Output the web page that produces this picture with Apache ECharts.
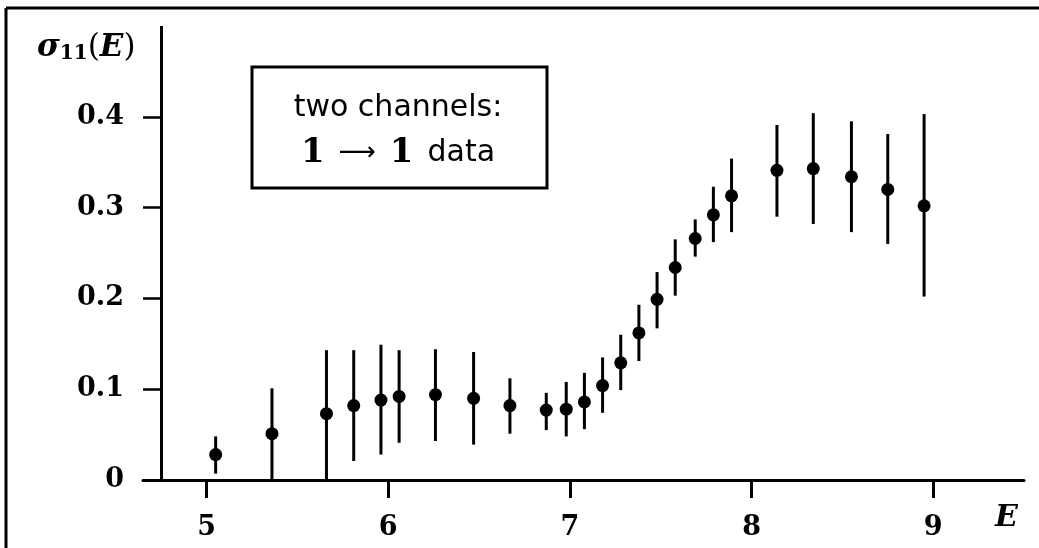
<!DOCTYPE html>
<html>
<head>
<meta charset="utf-8">
<script src="https://cdn.jsdelivr.net/npm/echarts@6/dist/echarts.min.js"></script>
<style>
  html, body { margin: 0; padding: 0; background: #fff; }
  #main { width: 1039px; height: 548px; }
</style>
</head>
<body>
<div id="main"></div>
<script>
// energies E and cross section sigma_11(E), error bar ends
var energy = [5.05, 5.36, 5.66, 5.81, 5.96, 6.06, 6.26, 6.47, 6.67, 6.87, 6.98, 7.08, 7.18,
              7.28, 7.38, 7.48, 7.58, 7.69, 7.79, 7.89, 8.14, 8.34, 8.55, 8.75, 8.95];
var sigma  = [0.028, 0.051, 0.073, 0.082, 0.088, 0.092, 0.094, 0.090, 0.082, 0.077, 0.078, 0.086, 0.104,
              0.129, 0.162, 0.199, 0.234, 0.266, 0.292, 0.313, 0.341, 0.343, 0.334, 0.320, 0.302];
var errLow = [0.007, 0.0, 0.0, 0.021, 0.028, 0.041, 0.043, 0.039, 0.051, 0.055, 0.048, 0.056, 0.074,
              0.099, 0.131, 0.167, 0.203, 0.246, 0.262, 0.273, 0.290, 0.282, 0.273, 0.260, 0.202];
var errHigh = [0.048, 0.101, 0.143, 0.143, 0.149, 0.143, 0.144, 0.141, 0.112, 0.096, 0.108, 0.118, 0.135,
               0.160, 0.193, 0.229, 0.265, 0.287, 0.323, 0.354, 0.391, 0.404, 0.395, 0.381, 0.403];
var xTicks = [5, 6, 7, 8, 9];
var yTicks = [0, 0.1, 0.2, 0.3, 0.4];

var points = [], bars = [];
for (var i = 0; i < energy.length; i++) {
    points.push([energy[i], sigma[i]]);
    bars.push([energy[i], errLow[i], errHigh[i]]);
}

var serifBold = 'DejaVu Serif';
var myChart = echarts.init(document.getElementById('main'));

var option = {
    backgroundColor: '#fff',
    animation: false,
    grid: { left: 143, right: 15, top: 26, bottom: 68 },
    xAxis: {
        type: 'value',
        min: 4.65,
        max: 9.5,
        splitLine: { show: false },
        axisLine: { lineStyle: { color: '#000', width: 3 } },
        axisTick: { customValues: xTicks, length: 18, lineStyle: { color: '#000', width: 3 } },
        axisLabel: {
            customValues: xTicks,
            margin: 34,
            color: '#000',
            fontFamily: serifBold,
            fontWeight: 'bold',
            fontSize: 27
        }
    },
    yAxis: {
        type: 'value',
        min: 0,
        max: 0.5,
        splitLine: { show: false },
        axisLine: { show: false },
        axisTick: { customValues: yTicks, inside: true, length: 18, lineStyle: { color: '#000', width: 2.5 } },
        axisLabel: {
            customValues: yTicks,
            margin: 19,
            color: '#000',
            fontFamily: serifBold,
            fontWeight: 'bold',
            fontSize: 27,
            formatter: function (v) { return v === 0 ? '0' : v.toFixed(1); }
        }
    },
    series: [{
        type: 'custom',
        silent: true,
        data: bars,
        renderItem: function (params, api) {
            var top = api.coord([api.value(0), api.value(2)]);
            var bot = api.coord([api.value(0), api.value(1)]);
            return {
                type: 'line',
                shape: { x1: top[0], y1: top[1], x2: bot[0], y2: bot[1] },
                style: { stroke: '#000', lineWidth: 3 }
            };
        }
    }, {
        type: 'scatter',
        silent: true,
        data: points,
        symbol: 'circle',
        symbolSize: 13,
        itemStyle: { color: '#000', opacity: 1 },
        markLine: {
            silent: true,
            symbol: ['none', 'none'],
            label: { show: false },
            lineStyle: { color: '#000', width: 3, type: 'solid' },
            data: [[{ coord: [4.75, 0] }, { coord: [4.75, 0.5] }]]
        }
    }],
    graphic: [
        // frame fragments of the cropped figure
        { type: 'line', shape: { x1: 6, y1: 8, x2: 1039, y2: 8 }, style: { stroke: '#000', lineWidth: 3 } },
        { type: 'line', shape: { x1: 6, y1: 8, x2: 6, y2: 548 }, style: { stroke: '#000', lineWidth: 3 } },
        // y axis title
        {
            type: 'text', left: 37, top: 32,
            style: {
                text: '{s|σ}{n|11}{p|(}{e|E}{p|)}',
                rich: {
                    s: { fontFamily: serifBold, fontWeight: 'bold', fontStyle: 'italic', fontSize: 31, fill: '#000' },
                    n: { fontFamily: serifBold, fontWeight: 'bold', fontSize: 20, fill: '#000', padding: [13, 0, 0, 0] },
                    p: { fontFamily: serifBold, fontSize: 31, fill: '#000' },
                    e: { fontFamily: serifBold, fontWeight: 'bold', fontStyle: 'italic', fontSize: 31, fill: '#000' }
                }
            }
        },
        // x axis title
        {
            type: 'text', left: 995, top: 503,
            style: { text: 'E', fontFamily: serifBold, fontWeight: 'bold', fontStyle: 'italic', fontSize: 30, fill: '#000' }
        },
        // legend box
        {
            type: 'rect', shape: { x: 252, y: 67, width: 295, height: 121 },
            style: { fill: '#fff', stroke: '#000', lineWidth: 3 }
        },
        {
            type: 'text', x: 398, y: 108, style: {
                text: 'two channels:', align: 'center', verticalAlign: 'middle',
                fontFamily: 'DejaVu Sans', fontSize: 30, fill: '#000'
            }
        },
        {
            type: 'text', x: 398, y: 153, style: {
                text: '{b|1}{a|⟶}{b|1}{t|data}', align: 'center', verticalAlign: 'middle',
                rich: {
                    b: { fontFamily: serifBold, fontWeight: 'bold', fontSize: 34, fill: '#000' },
                    a: { fontFamily: 'DejaVu Sans', fontSize: 26, fill: '#000', padding: [0, 14, 0, 14] },
                    t: { fontFamily: 'DejaVu Sans', fontSize: 30, fill: '#000', padding: [0, 0, 0, 14] }
                }
            }
        }
    ]
};
myChart.setOption(option, true);
</script>
</body>
</html>
